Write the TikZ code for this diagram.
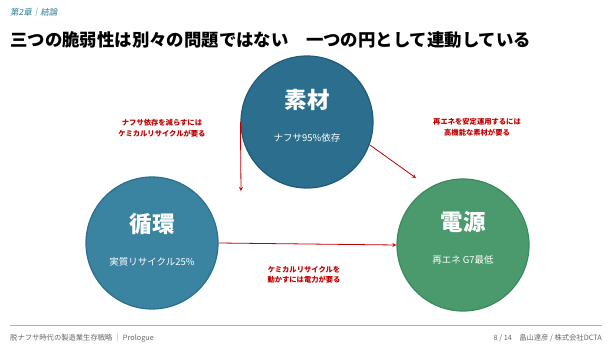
\documentclass[tikz,border=0pt]{standalone}
\usepackage{fontspec}
\setmainfont{Noto Sans CJK JP}[AutoFakeSlant=0.2]
\usetikzlibrary{positioning}
\definecolor{sozaiblue}{HTML}{2B6E8E}
\definecolor{sozaiedge}{HTML}{1F5B78}
\definecolor{junkanblue}{HTML}{3A84A1}
\definecolor{junkanedge}{HTML}{2C6F8D}
\definecolor{dengengreen}{HTML}{4A9A6D}
\definecolor{dengenedge}{HTML}{3A8A5C}
\definecolor{linkred}{HTML}{C00000}
\definecolor{headteal}{HTML}{2E7A96}
\tikzset{
  ring/.style={circle,minimum size=132pt,inner sep=0pt,line width=1.2pt},
  ringtitle/.style={text=white,font=\fontsize{22.5}{24}\selectfont\bfseries},
  ringsub/.style={text=white,font=\fontsize{9.5}{11}\selectfont},
  linklabel/.style={text=linkred,align=center,font=\fontsize{7.3}{10.5}\selectfont\bfseries},
  link/.style={->,linkred,thick},
  footnote/.style={inner sep=0pt,text=black!60,font=\fontsize{7.3}{8}\selectfont}
}

\begin{document}
\begin{tikzpicture}[x=1pt,y=-1pt,>=stealth]
\useasboundingbox (0,0) rectangle (612,348);
% header
\node[anchor=base west,inner sep=0pt,text=headteal,font=\fontsize{8.5}{9}\selectfont\itshape] (chapter) at (10,15) {第2章｜結論};
\node[anchor=base west,inner sep=0pt,font=\fontsize{17.4}{20}\selectfont\bfseries] (headline) at (10,46) {三つの脆弱性は別々の問題ではない　一つの円として連動している};
% circles
\node[ring,fill=sozaiblue,draw=sozaiedge] (sozai) at (307,122) {};
\node[ring,fill=junkanblue,draw=junkanedge] (junkan) at (152,243) {};
\node[ring,fill=dengengreen,draw=dengenedge] (dengen) at (463,245) {};
\node[ringtitle] (sozaiT) at (307,100) {素材};
\node[ringsub] (sozaiS) at (307,138) {ナフサ95\%依存};
\node[ringtitle] (junkanT) at (152,224) {循環};
\node[ringsub] (junkanS) at (152,262) {実質リサイクル25\%};
\node[ringtitle] (dengenT) at (463,222) {電源};
\node[ringsub] (dengenS) at (463,260) {再エネ G7最低};
% links
\coordinate (downend) at (241,191);
\coordinate (diagend) at (416,178);
\draw[link] (sozai.west) -- (downend);
\draw[link] (sozai.-20) -- (diagend);
\draw[link] (junkan.east) -- (dengen.west);
\node[linklabel] (needrecycle) at (162,128) {ナフサ依存を減らすには\\ケミカルリサイクルが要る};
\node[linklabel] (needmaterial) at (477,127) {再エネを安定運用するには\\高機能な素材が要る};
\node[linklabel] (needpower) at (304,275) {ケミカルリサイクルを\\動かすには電力が要る};
% footer
\coordinate (ruleL) at (10,325);
\coordinate (ruleR) at (602,325);
\draw[black!30,line width=0.6pt] (ruleL) -- (ruleR);
\node[footnote,anchor=west] (footleft) at (10,338) {脱ナフサ時代の製造業生存戦略 ｜ Prologue};
\node[footnote,anchor=east] (footright) at (602,338) {8 / 14　畠山達彦 / 株式会社DCTA};
\end{tikzpicture}
\end{document}
